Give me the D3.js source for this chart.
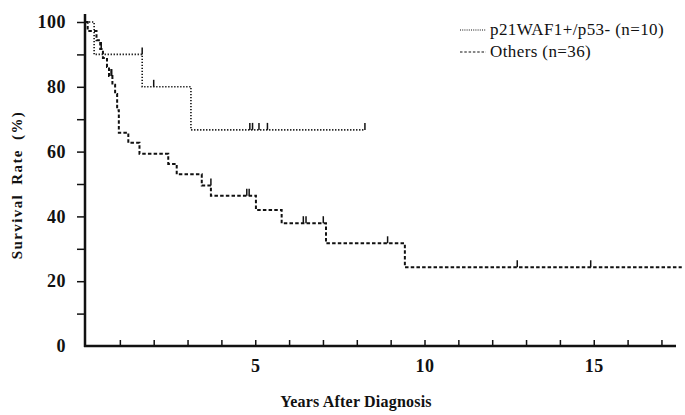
<!DOCTYPE html>
<html>
<head>
<meta charset="utf-8">
<script src="https://cdn.jsdelivr.net/npm/d3@7"></script>
<style>
  body { margin: 0; background: #fff; }
</style>
</head>
<body>
<div id="chart"></div>
<script>
// p21WAF1+/p53- group: step times (years) and survival (%)
const p21Times = [0, 0.24, 1.66, 3.1];
const p21Surv = [100, 90, 80, 66.7];
const p21Censor = [1.66, 2.0, 4.84, 4.92, 5.11, 5.36, 8.24];
const p21End = 8.24;

// Others group
const othTimes = [0, 0.05, 0.31, 0.42, 0.5, 0.62, 0.68, 0.78, 0.86, 0.92, 0.97, 1.25, 1.58, 2.43, 2.68, 3.42, 3.69, 5.02, 5.78, 7.09, 9.42];
const othSurv = [100, 97.2, 94.4, 91.7, 88.9, 86.1, 83.3, 80.6, 77.8, 72.8, 65.8, 62.7, 59.3, 56.2, 53.0, 49.5, 46.4, 42.0, 37.9, 31.7, 24.3];
const othCensor = [0.45, 0.74, 0.76, 3.69, 4.75, 4.82, 6.42, 6.50, 7.01, 8.91, 12.74, 14.91];
const othEnd = 17.6;

const yTicks = [0, 10, 20, 30, 40, 50, 60, 70, 80, 90, 100];
const xTicks = [1, 2, 3, 4, 5, 6, 7, 8, 9, 10, 11, 12, 13, 14, 15, 16, 17];
const xLabels = [5, 10, 15];
const legendLabels = ['p21WAF1+/p53- (n=10)', 'Others (n=36)'];

const serif = '"Liberation Serif", "Times New Roman", Times, serif';

class SurvivalChart {
    constructor(_config) {
        this.config = {
            parentElement: _config.parentElement,
            containerWidth: _config.containerWidth || 685,
            containerHeight: _config.containerHeight || 415
        };
        this.initVis();
    }

    initVis() {
        let vis = this;

        vis.svg = d3.select(vis.config.parentElement)
            .append('svg')
            .attr('width', vis.config.containerWidth)
            .attr('height', vis.config.containerHeight)
            .attr('font-family', serif);

        vis.xScale = d3.scaleLinear().domain([0, 17.5]).range([86, 86 + 17.5 * 33.85]);
        vis.yScale = d3.scaleLinear().domain([0, 100]).range([346, 22]);

        // y axis
        let yAxis = d3.axisLeft(vis.yScale)
            .tickValues(yTicks)
            .tickSize(8)
            .tickPadding(11)
            .tickFormat(d => d % 20 === 0 ? d : '');
        let yg = vis.svg.append('g')
            .attr('transform', 'translate(85,0)')
            .call(yAxis)
            .attr('font-family', serif);
        yg.select('.domain').remove();
        yg.selectAll('.tick line').attr('stroke', '#111').attr('stroke-width', 1.5)
            .filter(d => d === 0).remove();
        yg.selectAll('.tick text')
            .attr('fill', '#111')
            .attr('font-size', 18)
            .attr('font-weight', 'bold')
            .attr('letter-spacing', '0.5px');

        // x axis
        let xAxis = d3.axisBottom(vis.xScale)
            .tickValues(xTicks)
            .tickSize(-6)
            .tickPadding(13)
            .tickFormat(d => xLabels.includes(d) ? d : '');
        let xg = vis.svg.append('g')
            .attr('transform', 'translate(0,346)')
            .call(xAxis)
            .attr('font-family', serif);
        xg.select('.domain').remove();
        xg.selectAll('.tick line').attr('stroke', '#111').attr('stroke-width', 1.5);
        xg.selectAll('.tick text')
            .attr('fill', '#111')
            .attr('font-size', 18)
            .attr('font-weight', 'bold')
            .attr('letter-spacing', '0.5px');

        // thick axis lines
        vis.svg.append('line')
            .attr('x1', 85).attr('x2', 85).attr('y1', 14).attr('y2', 347)
            .attr('stroke', '#111').attr('stroke-width', 2.5);
        vis.svg.append('line')
            .attr('x1', 84).attr('x2', 676).attr('y1', 346).attr('y2', 346)
            .attr('stroke', '#111').attr('stroke-width', 2.5);

        vis.svg.append('text')
            .attr('x', 356).attr('y', 407)
            .attr('text-anchor', 'middle')
            .attr('fill', '#111')
            .attr('font-size', 16)
            .attr('font-weight', 'bold')
            .attr('letter-spacing', '0.2px')
            .text('Years After Diagnosis');

        vis.svg.append('text')
            .attr('transform', 'translate(22,185) rotate(-90)')
            .attr('text-anchor', 'middle')
            .attr('fill', '#111')
            .attr('font-size', 15)
            .attr('font-weight', 'bold')
            .attr('letter-spacing', '1.4px')
            .attr('word-spacing', '4px')
            .text('Survival Rate (%)');

        vis.renderVis();
    }

    stepPath(times, surv, end) {
        let vis = this;
        let pts = [];
        times.forEach((t, i) => {
            if (i > 0) pts.push([vis.xScale(t), vis.yScale(surv[i - 1])]);
            pts.push([vis.xScale(t), vis.yScale(surv[i])]);
        });
        pts.push([vis.xScale(end), vis.yScale(surv[surv.length - 1])]);
        return d3.line()(pts);
    }

    levelBefore(times, surv, t) {
        let i = d3.bisectLeft(times, t) - 1;
        return surv[Math.max(i, 0)];
    }

    renderVis() {
        let vis = this;

        let series = [
            {times: p21Times, surv: p21Surv, censor: p21Censor, end: p21End, dash: '1.3,1.7', width: 1.6},
            {times: othTimes, surv: othSurv, censor: othCensor, end: othEnd, dash: '3.5,2.2', width: 2}
        ];

        series.forEach(s => {
            vis.svg.append('path')
                .attr('d', vis.stepPath(s.times, s.surv, s.end))
                .attr('fill', 'none')
                .attr('stroke', '#111')
                .attr('stroke-width', s.width)
                .attr('stroke-dasharray', s.dash);

            vis.svg.selectAll(null)
                .data(s.censor)
                .enter()
                .append('line')
                .attr('x1', d => vis.xScale(d))
                .attr('x2', d => vis.xScale(d))
                .attr('y1', d => vis.yScale(vis.levelBefore(s.times, s.surv, d)))
                .attr('y2', d => vis.yScale(vis.levelBefore(s.times, s.surv, d)) - 7)
                .attr('stroke', '#111')
                .attr('stroke-width', 1.5);
        });

        // legend
        let legend = vis.svg.append('g');
        series.forEach((s, i) => {
            let y = 30 + i * 22;
            legend.append('line')
                .attr('x1', 460).attr('x2', 486).attr('y1', y).attr('y2', y)
                .attr('stroke', '#111')
                .attr('stroke-width', 1.2)
                .attr('stroke-dasharray', i === 0 ? '1,1.2' : '2.5,1.8');
            legend.append('text')
                .attr('x', 490).attr('y', y + 5)
                .attr('fill', '#111')
                .attr('font-size', 17)
                .attr('letter-spacing', '0.4px')
                .text(legendLabels[i]);
        });
    }
}

new SurvivalChart({parentElement: '#chart'});
</script>
</body>
</html>
